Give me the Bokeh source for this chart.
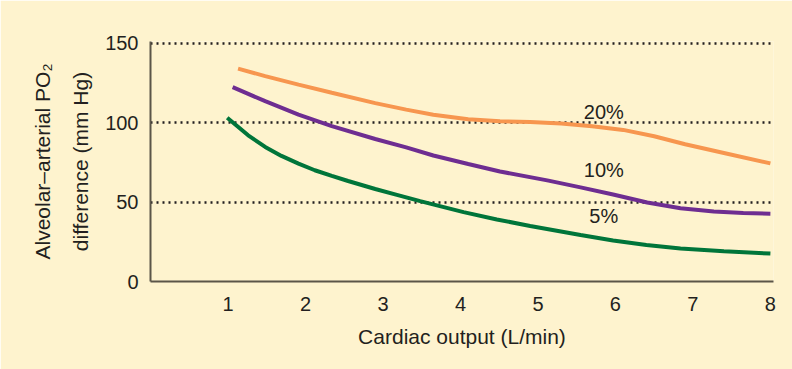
from bokeh.plotting import figure
from bokeh.models import Range1d, FixedTicker, ColumnDataSource
from bokeh.core.properties import value
from bokeh.embed import file_html
from bokeh.resources import INLINE

# ---- data ----
x_ticks = [1, 2, 3, 4, 5, 6, 7, 8]
y_ticks = [0, 50, 100, 150]
grid_ticks = [50, 100, 150]

x20 = [1.13, 1.48, 1.91, 2.34, 2.90, 3.3, 3.65, 4.1, 4.51, 4.9, 5.3, 5.7, 6.1, 6.5, 6.9, 7.4, 8.0]
y20 = [134.1, 129.4, 124.0, 118.9, 112.4, 108.3, 105.0, 102.2, 100.9, 100.5, 99.6, 97.8, 95.5, 91.5, 86.5, 81.0, 74.4]

x10 = [1.06, 1.48, 1.91, 2.34, 2.90, 3.3, 3.65, 4.1, 4.51, 5.12, 5.55, 5.97, 6.41, 6.84, 7.27, 7.65, 8.0]
y10 = [122.5, 113.6, 105.1, 97.9, 89.8, 84.5, 79.4, 74.0, 69.3, 63.7, 59.3, 54.8, 49.8, 46.2, 44.1, 43.1, 42.7]

x5 = [0.99, 1.26, 1.48, 1.69, 1.91, 2.12, 2.34, 2.55, 2.90, 3.18, 3.48, 4.04, 4.47, 4.90, 5.55, 5.97, 6.4, 6.84, 7.4, 8.0]
y5 = [103.2, 92.1, 84.8, 79.1, 74.3, 70.1, 66.5, 63.3, 58.3, 54.6, 50.6, 43.7, 39.1, 35.0, 29.3, 25.8, 23.0, 20.8, 19.0, 17.6]

label_x = [5.85, 5.85, 5.85]
label_y = [106.5, 70.0, 41.5]
label_text = ["20%", "10%", "5%"]

# ---- styling ----
BG = "#FEF3CE"
TXT = "#231F20"
AX = "#5B5548"
FONT = "Liberation Sans"

p = figure(width=792, height=369, output_backend="svg", toolbar_location=None,
           x_range=Range1d(0, 8.04), y_range=Range1d(0, 151.2),
           min_border_left=150, min_border_right=19, min_border_top=41, min_border_bottom=88)
p.background_fill_color = BG
p.border_fill_color = BG
p.outline_line_color = None

# grid
p.xgrid.visible = False
p.ygrid.ticker = FixedTicker(ticks=grid_ticks)
p.ygrid.grid_line_color = "#231F20"
p.ygrid.grid_line_width = 2.5
p.ygrid.grid_line_dash = "2 4"

# axes
for ax in (p.xaxis[0], p.yaxis[0]):
    ax.axis_line_color = AX
    ax.axis_line_width = 2
    ax.major_tick_line_color = None
    ax.minor_tick_line_color = None
    ax.major_tick_in = 0
    ax.major_tick_out = 0
    ax.minor_tick_in = 0
    ax.minor_tick_out = 0
    ax.major_label_text_font = FONT
    ax.major_label_text_font_size = "20px"
    ax.major_label_text_color = TXT
    ax.axis_label_text_font = FONT
    ax.axis_label_text_font_size = "21px"
    ax.axis_label_text_font_style = "normal"
    ax.axis_label_text_color = TXT

p.xaxis.major_label_standoff = 15
p.yaxis.major_label_standoff = 12
p.xaxis.ticker = FixedTicker(ticks=x_ticks)
p.yaxis.ticker = FixedTicker(ticks=y_ticks)
p.xaxis.axis_label = "Cardiac output (L/min)"
p.xaxis.axis_label_standoff = 11
p.yaxis.axis_label = "Alveolar\u2013arterial PO\u2082\ndifference (mm Hg)"
p.yaxis.axis_label_standoff = 10
p.yaxis.axis_label_text_line_height = 1.65

# curves
p.line(x20, y20, line_color="#F7964F", line_width=4)
p.line(x10, y10, line_color="#6E2D91", line_width=4)
p.line(x5, y5, line_color="#00753A", line_width=4)

src = ColumnDataSource(dict(x=label_x, y=label_y, t=label_text))
p.text(x="x", y="y", text="t", source=src, text_font=value(FONT), text_font_size="20px",
       text_color=TXT, text_align="center", text_baseline="middle")

open("out.html", "w").write(file_html(p, INLINE))
